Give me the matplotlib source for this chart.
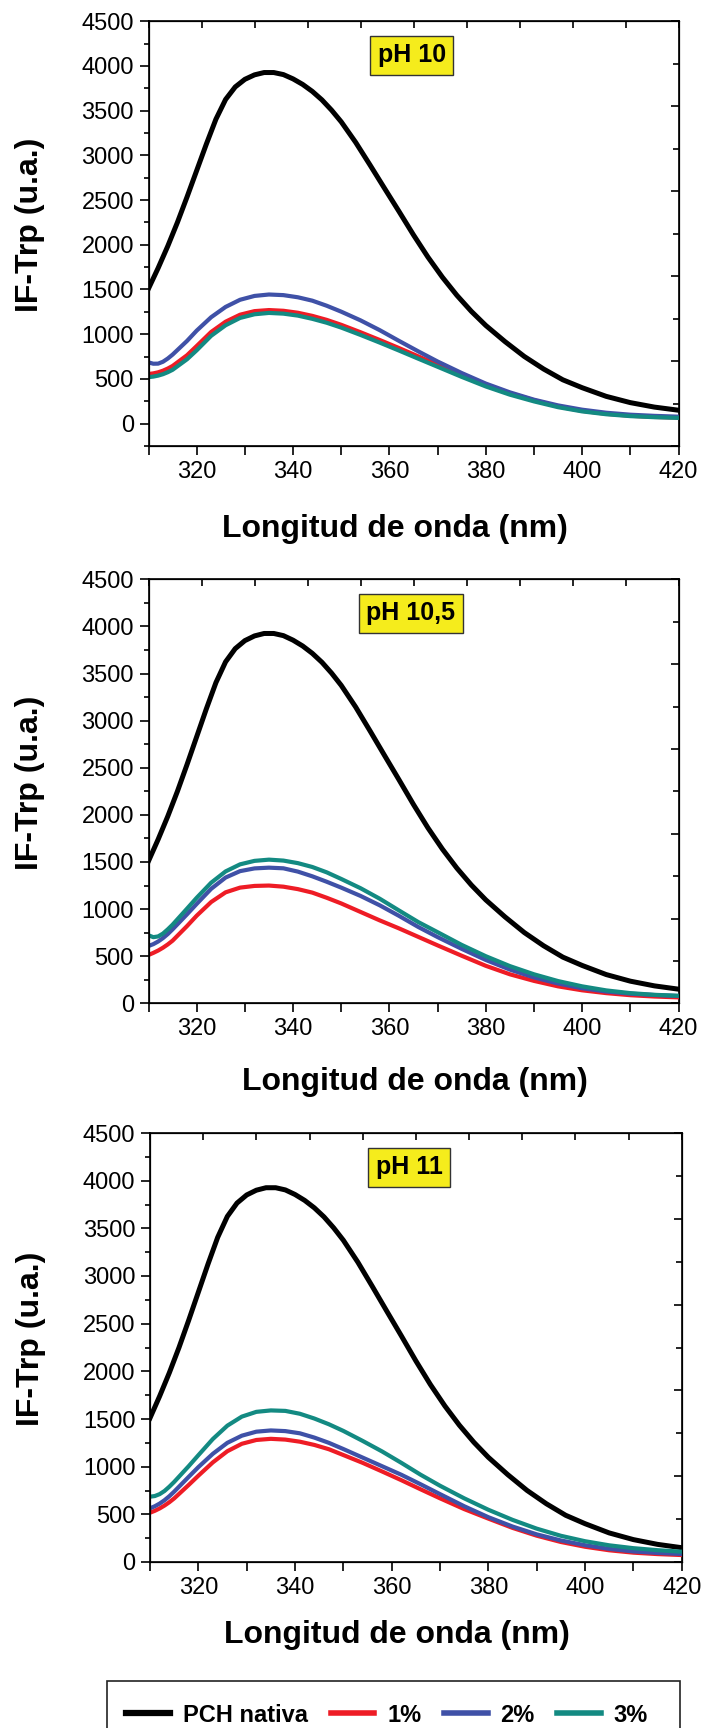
import matplotlib
matplotlib.use("Agg")
import matplotlib.pyplot as plt
from matplotlib.lines import Line2D
from matplotlib.patches import Rectangle
from matplotlib.ticker import MultipleLocator

plt.rcParams['font.family'] = ['Liberation Sans', 'DejaVu Sans']

# native protein (same spectrum in all three panels)
wl_nativa = [310, 312, 314, 316, 318, 320, 322, 324, 326, 328, 330, 332, 334, 336, 338, 340, 342, 344,
             346, 348, 350, 353, 356, 359, 362, 365, 368, 371, 374, 377, 380, 384, 388, 392, 396, 400,
             405, 410, 415, 420]
nativa = [1510, 1740, 1985, 2250, 2535, 2830, 3125, 3405, 3625, 3765, 3850, 3900, 3926, 3926, 3903, 3855,
          3793, 3715, 3620, 3505, 3375, 3145, 2890, 2630, 2372, 2110, 1862, 1637, 1435, 1256, 1098, 917,
          751, 611, 490, 402, 305, 235, 185, 150]

# wavelength grid for the treated samples (nm)
wl = [310, 311, 312, 313, 314, 315, 318, 320, 323, 326, 329, 332, 335, 338, 341, 344, 347, 350,
      354, 358, 362, 366, 370, 375, 380, 385, 390, 395, 400, 405, 410, 415, 420]

# pH 10
ph10_1 = [555, 562, 574, 592, 616, 645, 765, 868, 1025, 1140, 1218, 1258, 1270, 1262, 1240, 1205, 1160, 1105,
          1022, 935, 845, 752, 660, 545, 435, 340, 262, 192, 143, 110, 88, 75, 67]
ph10_2 = [685, 670, 671, 692, 728, 772, 925, 1040, 1190, 1305, 1385, 1428, 1444, 1437, 1413, 1375, 1318, 1252,
          1155, 1045, 925, 808, 695, 566, 448, 350, 268, 204, 156, 122, 100, 87, 78]
ph10_3 = [520, 526, 537, 553, 575, 602, 720, 820, 982, 1100, 1182, 1223, 1238, 1230, 1208, 1172, 1128, 1074,
          992, 906, 817, 726, 636, 523, 416, 324, 249, 184, 137, 105, 84, 72, 64]

# pH 10,5
ph105_1 = [513, 535, 560, 590, 625, 665, 820, 930, 1075, 1178, 1228, 1246, 1250, 1238, 1212, 1175, 1120, 1060,
           970, 880, 795, 705, 615, 505, 398, 308, 238, 180, 138, 108, 86, 72, 63]
ph105_2 = [608, 628, 656, 692, 735, 785, 945, 1055, 1215, 1335, 1403, 1432, 1440, 1433, 1398, 1348, 1290, 1228,
           1140, 1040, 928, 810, 703, 578, 460, 358, 275, 210, 160, 125, 102, 88, 77]
ph105_3 = [722, 702, 710, 740, 785, 835, 1005, 1120, 1280, 1400, 1475, 1512, 1525, 1515, 1488, 1447, 1390, 1320,
           1222, 1110, 985, 862, 755, 620, 500, 395, 308, 236, 180, 137, 108, 90, 80]

# pH 11
ph11_1 = [517, 537, 562, 592, 627, 667, 808, 905, 1045, 1162, 1240, 1280, 1292, 1284, 1262, 1228, 1183, 1122,
          1040, 950, 858, 762, 668, 555, 455, 358, 276, 210, 160, 123, 98, 83, 73]
ph11_2 = [563, 585, 613, 648, 690, 738, 893, 995, 1135, 1250, 1325, 1367, 1380, 1373, 1350, 1305, 1250, 1185,
          1095, 1005, 915, 815, 712, 585, 470, 372, 290, 226, 176, 138, 111, 95, 84]
ph11_3 = [685, 692, 712, 745, 790, 840, 1005, 1120, 1290, 1430, 1525, 1575, 1590, 1585, 1555, 1505, 1445, 1375,
          1270, 1160, 1040, 915, 800, 668, 548, 442, 350, 275, 218, 175, 145, 124, 108]

panels = [
    ('pH 10', [ph10_1, ph10_2, ph10_3], (-250, 4500)),
    ('pH 10,5', [ph105_1, ph105_2, ph105_3], (0, 4500)),
    ('pH 11', [ph11_1, ph11_2, ph11_3], (0, 4500)),
]
series_labels = ['PCH nativa', '1%', '2%', '3%']
colors = ['#000000', '#ee1c25', '#3f51a7', '#138a82']

W, H = 707, 1728
fig = plt.figure(figsize=(W / 100, H / 100), dpi=100)

# axes boxes in pixels: left, top, right, bottom
boxes = [(148.5, 21.2, 678.5, 446.0), (148.5, 579.4, 678.5, 1003.3), (150.0, 1133.0, 681.7, 1562.0)]
tag_pos = [(0.497, 0.92), (0.495, 0.92), (0.487, 0.92)]
xlab_pos = [(0.465, -0.195), (0.503, -0.186), (0.465, -0.17)]

for i, (tag, curves, ylim) in enumerate(panels):
    l, t, r, b = boxes[i]
    ax = fig.add_axes([l / W, 1 - b / H, (r - l) / W, (b - t) / H])
    ax.plot(wl_nativa, nativa, color=colors[0], lw=3.6, zorder=3, solid_joinstyle='round')
    for c, col in zip(curves, colors[1:]):
        ax.plot(wl, c, color=col, lw=3.0, zorder=3, solid_joinstyle='round')
    ax.set_xlim(310, 420)
    ax.set_ylim(*ylim)
    ax.xaxis.set_major_locator(MultipleLocator(20))
    ax.xaxis.set_minor_locator(MultipleLocator(10))
    ax.yaxis.set_major_locator(MultipleLocator(500))
    ax.yaxis.set_minor_locator(MultipleLocator(250))
    ax.tick_params(which='major', direction='out', length=6.5, width=1.2, labelsize=17, pad=4)
    ax.tick_params(which='minor', direction='out', length=3.5, width=1.2)
    ax.tick_params(axis='x', which='minor', length=6.5)
    for s in ax.spines.values():
        s.set_linewidth(1.2)

    # inner ticks on top and right (separate layer scale)
    axr = ax.twinx()
    axr.set_ylim(0, 10)
    axr.yaxis.set_major_locator(MultipleLocator(2))
    axr.yaxis.set_minor_locator(MultipleLocator(1))
    axr.tick_params(which='major', direction='in', length=6, width=1.2, labelright=False)
    axr.tick_params(which='minor', direction='in', length=4, width=1.2)
    axt = ax.twiny()
    axt.set_xlim(0, 10)
    axt.xaxis.set_major_locator(MultipleLocator(2))
    axt.xaxis.set_minor_locator(MultipleLocator(1))
    axt.tick_params(which='major', direction='in', length=5, width=1.2, labeltop=False)
    axt.tick_params(which='minor', direction='in', length=5, width=1.2)

    ax.set_ylabel('IF-Trp (u.a.)', fontsize=23, fontweight='bold', va='center')
    ax.yaxis.set_label_coords(-0.224, 0.52)
    ax.set_xlabel('Longitud de onda (nm)', fontsize=23, fontweight='bold', va='center')
    ax.xaxis.set_label_coords(*xlab_pos[i])

    ax.text(tag_pos[i][0], tag_pos[i][1], tag, transform=ax.transAxes, ha='center', va='center',
            fontsize=18, fontweight='bold', zorder=5,
            bbox=dict(boxstyle='square,pad=0.3', facecolor='#f5ec1c', edgecolor='#333333', linewidth=1.0))

# legend below the last panel
handles = [Line2D([], [], color=colors[0], lw=4.5)] + [Line2D([], [], color=c, lw=4) for c in colors[1:]]
fig.legend(handles, series_labels, loc='center left', bbox_to_anchor=(126.5 / W, 1 - 1715 / H),
           ncol=4, frameon=False, borderpad=0, borderaxespad=0, handlelength=1.85, handletextpad=0.54,
           columnspacing=0.96, prop={'weight': 'bold', 'size': 17})
fig.patches.append(Rectangle((107 / W, -0.01), (680 - 107) / W, 1 - 1681 / H + 0.01,
                             transform=fig.transFigure, fill=False, edgecolor='#222222',
                             linewidth=1.2))

fig.savefig('out.png', dpi=100)
